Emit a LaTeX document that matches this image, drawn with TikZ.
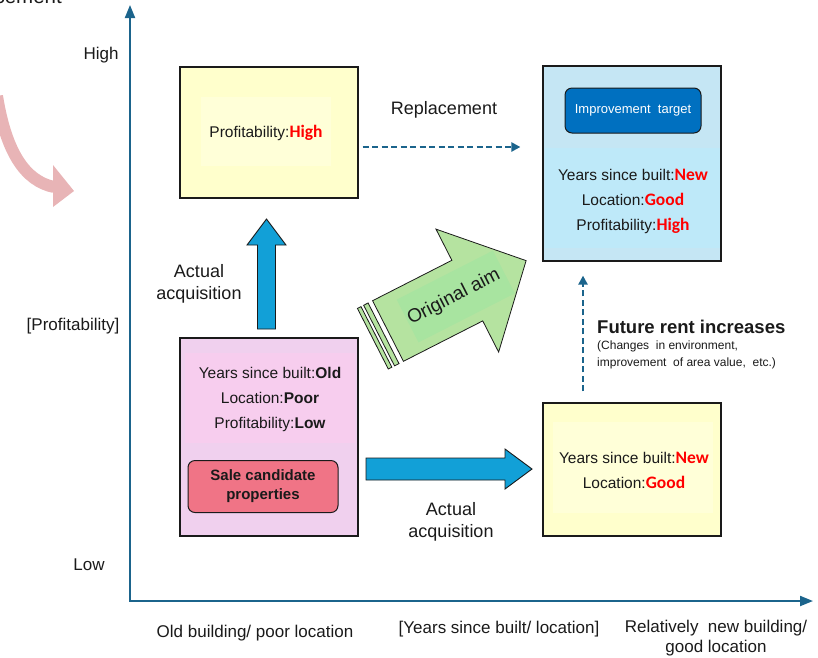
\documentclass[tikz,border=0pt]{standalone}
\usepackage{fontspec}
\setmainfont{Liberation Sans}
\newfontfamily\calfont{Carlito}
\usetikzlibrary{arrows.meta}

\definecolor{ink}{RGB}{26,26,26}
\definecolor{axisblue}{RGB}{27,100,140}
\definecolor{hotred}{RGB}{255,0,0}
\definecolor{boxyellow}{RGB}{255,255,204}
\definecolor{boxyellowin}{RGB}{255,255,216}
\definecolor{boxblue}{RGB}{197,230,244}
\definecolor{boxbluein}{RGB}{190,233,249}
\definecolor{boxpink}{RGB}{240,208,238}
\definecolor{boxpinkin}{RGB}{247,205,238}
\definecolor{salered}{RGB}{240,116,134}
\definecolor{navyblue}{RGB}{0,112,192}
\definecolor{arrowblue}{RGB}{18,160,215}
\definecolor{aimgreen}{RGB}{181,227,160}
\definecolor{aimgreenin}{RGB}{168,228,160}
\definecolor{bendpink}{RGB}{232,180,182}

% red Calibri-like emphasis and black bold emphasis
\newcommand\hot[1]{{\calfont\bfseries\fontsize{17.5}{25}\selectfont\color{hotred}#1}}
\newcommand\weak[1]{\textbf{#1}}

\begin{document}
\begin{tikzpicture}[x=1pt,y=-1pt,
  every node/.style={text=ink},
  axis/.style={draw=axisblue, line width=2pt},
  panel/.style={draw=ink, line width=1.2pt, minimum width=178pt, inner sep=0pt},
  band/.style={draw=none, inner sep=0pt},
  info/.style={align=center, inner sep=0pt, font=\fontsize{15.5}{25}\selectfont},
  lbl/.style={align=center, inner sep=0pt, font=\fontsize{18}{22}\selectfont},
  axislbl/.style={align=center, inner sep=0pt, font=\fontsize{17}{20}\selectfont},
  flow/.style={draw=axisblue, line width=2.4pt, dash pattern=on 6pt off 3.5pt,
    -{Triangle[length=9pt,width=9pt]}},
  blockarrow/.style={fill=arrowblue, draw=ink, line width=0.9pt, line join=miter},
  aim/.style={fill=aimgreen, draw=ink, line width=0.8pt, line join=miter},
  tag/.style={rounded corners=7pt, line width=1pt, inner sep=0pt, align=center}
]
\useasboundingbox (0,0) rectangle (818,657);

% curved hint arrow entering from the upper left
\node[anchor=base east, inner sep=0pt, font=\fontsize{20.5}{24}\selectfont] (cutlabel) at (62,3) {Replacement};
\draw[bendpink, line width=12pt] (-3,96) .. controls (6,152) and (25,181) .. (54,187);
\fill[bendpink] (53,165) -- (74,191) -- (53,207) -- cycle;

% axes
\coordinate (ytop) at (130,5);
\coordinate (origin) at (130,601);
\coordinate (xend) at (813,601);
\draw[axis, {Triangle[length=13pt,width=10pt]}-{Triangle[length=13pt,width=10pt]}]
  (ytop) -- (origin) -- (xend);

\node[axislbl] (high) at (101,55) {High};
\node[axislbl] (low) at (89,565) {Low};
\node[axislbl] (yname) at (73,326) {[Profitability]};
\node[axislbl] (xleft) at (255,633) {Old building/ poor location};
\node[axislbl] (xname) at (499,629) {[Years since built/ location]};
\node[axislbl] (xright) at (716,638) {Relatively\ \ new building/\\good location};

% upper left: high profitability only
\node[panel, fill=boxyellow, minimum height=131pt] (hiprof) at (269,132.5) {};
\node[band, fill=boxyellowin, minimum width=130pt, minimum height=69pt] (hiprofband) at (266,131.5) {};
\node[info] (hiproftext) at (266,133) {Profitability:\hot{High}};

% upper right: improvement target
\node[panel, fill=boxblue, minimum height=195pt] (target) at (632,163.5) {};
\node[band, fill=boxbluein, minimum width=175pt, minimum height=100pt] (targetband) at (632,198) {};
\node[tag, draw=ink, fill=navyblue, minimum width=136pt, minimum height=45pt,
  text=white, font=\fontsize{13}{15}\selectfont] (targettag) at (633,110.5) {Improvement\ \ target};
\node[info] (targettext) at (633,201) {Years since built:\hot{New}\\Location:\hot{Good}\\Profitability:\hot{High}};

% lower left: sale candidates
\node[panel, fill=boxpink, minimum height=198pt] (sale) at (269,437) {};
\node[band, fill=boxpinkin, minimum width=170pt, minimum height=90pt] (saleband) at (270,398) {};
\node[info] (saletext) at (270,399) {Years since built:\weak{Old}\\Location:\weak{Poor}\\Profitability:\weak{Low}};
\node[tag, draw=ink, fill=salered, minimum width=150pt, minimum height=52pt,
  font=\bfseries\fontsize{15}{19}\selectfont] (saletag) at (263,486.5) {Sale candidate\\properties};

% lower right: new building, good location
\node[panel, fill=boxyellow, minimum height=133pt] (newgood) at (632,469.5) {};
\node[band, fill=boxyellowin, minimum width=160pt, minimum height=91pt] (newgoodband) at (633,467.5) {};
\node[info] (newgoodtext) at (634,470) {Years since built:\hot{New}\\Location:\hot{Good}};

% actual acquisitions (block arrows)
\filldraw[blockarrow] (257.5,329) -- (257.5,245) -- (247,245) -- (266.5,219)
  -- (286,245) -- (275.5,245) -- (275.5,329) -- cycle;
\node[lbl] (upnote) at (199,284) {Actual\\acquisition};
\filldraw[blockarrow] (366,458) -- (505,458) -- (505,449) -- (532,469)
  -- (505,489) -- (505,480) -- (366,480) -- cycle;
\node[lbl] (rightnote) at (451,521.5) {Actual\\acquisition};

% original aim (green striped block arrow)
\begin{scope}[shift={(388,331)}, rotate=27]
  \filldraw[aim] (-17,-34) rectangle (-13,34);
  \filldraw[aim] (-10,-34) rectangle (-5,34);
  \filldraw[aim] (0,-34) -- (89,-34) -- (89,-69) -- (155,0) -- (89,69) -- (89,34) -- (0,34) -- cycle;
  \fill[aimgreenin] (22,-24) rectangle (130,24);
  \node[rotate=27, inner sep=0pt, font=\fontsize{19}{22}\selectfont] (aimtext) at (74,0) {Original aim};
\end{scope}

% replacement and future rent increases
\draw[flow] ([shift={(4,14.5)}]hiprof.east) -- ([shift={(-22,-16.5)}]target.west);
\node[lbl] (replnote) at (444,110) {Replacement};
\draw[flow] ([shift={(-49,-11)}]newgood.north) -- ([shift={(-49,14)}]target.south);
\node[anchor=west, inner sep=0pt, font=\bfseries\fontsize{18.5}{22}\selectfont] (risehead) at (597,327) {Future rent increases};
\node[anchor=north west, align=left, inner sep=0pt, font=\fontsize{12}{17}\selectfont] (risenote) at (597,341)
  {(Changes\ \ in environment,\\improvement\ \ of area value,\ \ etc.)};
\end{tikzpicture}
\end{document}
